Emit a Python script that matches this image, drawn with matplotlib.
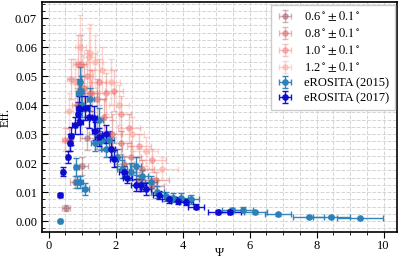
import matplotlib
matplotlib.use("Agg")
import matplotlib.pyplot as plt
from matplotlib.ticker import MultipleLocator
import numpy as np

plt.rcParams['font.family'] = ['Liberation Serif', 'DejaVu Serif']
plt.rcParams['mathtext.fontset'] = 'stix'

# ---- data ----
# 0.6 deg
x06 = [0.51, 0.78, 1.00, 1.15, 1.45, 1.90, 2.25, 2.70, 3.10]
y06 = [0.0045, 0.0135, 0.0190, 0.0285, 0.0300, 0.0250, 0.0195, 0.0140, 0.0120]
xe06 = [0.12, 0.15, 0.18, 0.20, 0.25, 0.30, 0.30, 0.35, 0.35]
ye06 = [0.001, 0.002, 0.003, 0.004, 0.005, 0.004, 0.003, 0.003, 0.003]
# 0.8 deg
x08 = [0.60, 0.85, 1.05, 1.25, 1.45, 1.65, 1.90, 2.15, 2.45, 2.80, 3.20]
y08 = [0.0280, 0.0400, 0.0460, 0.0440, 0.0420, 0.0360, 0.0300, 0.0270, 0.0220, 0.0180, 0.0140]
xe08 = [0.12, 0.15, 0.18, 0.20, 0.22, 0.25, 0.28, 0.30, 0.32, 0.35, 0.40]
ye08 = [0.004, 0.006, 0.008, 0.008, 0.007, 0.006, 0.005, 0.004, 0.004, 0.003, 0.003]
# 1.0 deg
x10 = [0.50, 0.66, 0.88, 0.98, 1.15, 1.30, 1.50, 1.70, 1.95, 2.15, 2.40, 2.70, 3.10]
y10 = [0.0280, 0.0490, 0.0540, 0.0540, 0.0500, 0.0440, 0.0480, 0.0440, 0.0450, 0.0370, 0.0320, 0.0260, 0.0210]
xe10 = [0.10, 0.12, 0.15, 0.15, 0.18, 0.20, 0.22, 0.25, 0.28, 0.30, 0.32, 0.35, 0.40]
ye10 = [0.004, 0.007, 0.010, 0.010, 0.009, 0.008, 0.008, 0.007, 0.007, 0.006, 0.005, 0.004, 0.004]
# 1.2 deg
x12 = [0.60, 0.80, 0.95, 1.20, 1.25, 1.40, 1.60, 1.85, 2.10, 2.50, 2.90, 3.40]
y12 = [0.0380, 0.0480, 0.0600, 0.0565, 0.0580, 0.0550, 0.0520, 0.0480, 0.0400, 0.0300, 0.0240, 0.0180]
xe12 = [0.12, 0.14, 0.16, 0.18, 0.20, 0.22, 0.25, 0.28, 0.30, 0.35, 0.38, 0.45]
ye12 = [0.006, 0.008, 0.011, 0.010, 0.010, 0.009, 0.008, 0.008, 0.007, 0.006, 0.005, 0.004]
# eROSITA 2015
x15 = [0.35, 0.83, 0.85, 0.95, 1.10, 0.91, 0.96, 0.93, 1.00, 1.25, 1.50, 1.40, 1.55,
       1.70, 1.80, 2.05, 2.20, 2.45, 2.60, 2.80, 3.05, 3.25, 3.50, 3.70, 3.95, 4.25,
       5.47, 5.80, 6.17, 6.85, 7.76, 8.44, 9.29]
y15 = [0.0000, 0.0187, 0.0135, 0.0135, 0.0110, 0.0440, 0.0450, 0.0480, 0.0400, 0.0420,
       0.0350, 0.0270, 0.0275, 0.0250, 0.0280, 0.0220, 0.0180, 0.0170, 0.0190, 0.0155,
       0.0135, 0.0100, 0.0085, 0.0080, 0.0080, 0.0075, 0.0038, 0.0039, 0.0030, 0.0024,
       0.0015, 0.0013, 0.0009]
xe15 = [0.05, 0.08, 0.08, 0.08, 0.10, 0.08, 0.08, 0.08, 0.10, 0.10, 0.12, 0.12, 0.12,
        0.14, 0.14, 0.15, 0.15, 0.16, 0.16, 0.18, 0.18, 0.20, 0.20, 0.22, 0.22, 0.25,
        0.30, 0.30, 0.35, 0.40, 0.45, 0.55, 0.68]
ye15 = [0.0003, 0.003, 0.002, 0.002, 0.002, 0.005, 0.005, 0.005, 0.004, 0.004, 0.004,
        0.003, 0.003, 0.003, 0.003, 0.003, 0.003, 0.003, 0.003, 0.002, 0.002, 0.002,
        0.0015, 0.0015, 0.0015, 0.0015, 0.0008, 0.0008, 0.0006, 0.0005, 0.0004, 0.0003, 0.0002]
# eROSITA 2017
x17 = [0.35, 0.42, 0.57, 0.63, 0.68, 0.78, 0.88, 0.90, 0.95, 1.10, 1.20, 1.35, 1.40,
       1.50, 1.70, 1.85, 1.95, 2.25, 2.35, 2.60, 2.75, 2.90, 3.30, 3.60, 3.85, 4.10,
       4.40, 5.07, 5.42]
y17 = [0.0090, 0.0170, 0.0220, 0.0270, 0.0293, 0.0330, 0.0370, 0.0390, 0.0340, 0.0390,
       0.0360, 0.0355, 0.0310, 0.0290, 0.0300, 0.0250, 0.0215, 0.0170, 0.0150, 0.0125,
       0.0125, 0.0110, 0.0090, 0.0075, 0.0070, 0.0065, 0.0050, 0.0032, 0.0032]
xe17 = [0.04, 0.05, 0.05, 0.06, 0.06, 0.07, 0.07, 0.08, 0.08, 0.09, 0.10, 0.10, 0.10,
        0.11, 0.12, 0.12, 0.13, 0.14, 0.14, 0.15, 0.16, 0.17, 0.18, 0.20, 0.20, 0.22,
        0.25, 0.30, 0.32]
ye17 = [0.0008, 0.0015, 0.002, 0.003, 0.003, 0.003, 0.004, 0.004, 0.004, 0.004, 0.004,
        0.004, 0.003, 0.003, 0.003, 0.003, 0.003, 0.002, 0.002, 0.002, 0.002, 0.002,
        0.0015, 0.0012, 0.0012, 0.001, 0.001, 0.0006, 0.0006]

fig = plt.figure(figsize=(3.99, 2.59), dpi=100)
ax = fig.add_axes([0.105, 0.104, 0.89, 0.888])

ax.grid(True, which='both', ls='--', color='#d4d4d4', lw=0.7, zorder=0)
ax.set_axisbelow(True)

kw = dict(fmt='o', ms=3.8, capsize=2, elinewidth=1.0, capthick=1.0)
ax.errorbar(x06, y06, yerr=ye06, xerr=xe06, color='#a05a64', alpha=0.45, label=r'0.6$^\circ\pm0.1^\circ$', **kw)
ax.errorbar(x08, y08, yerr=ye08, xerr=xe08, color='#d9605e', alpha=0.45, label=r'0.8$^\circ\pm0.1^\circ$', **kw)
ax.errorbar(x10, y10, yerr=ye10, xerr=xe10, color='#f07070', alpha=0.4, label=r'1.0$^\circ\pm0.1^\circ$', **kw)
ax.errorbar(x12, y12, yerr=ye12, xerr=xe12, color='#ff9a8a', alpha=0.4, label=r'1.2$^\circ\pm0.1^\circ$', **kw)
ax.errorbar(x15, y15, yerr=ye15, xerr=xe15, color='#2b80b8', alpha=0.95, label='eROSITA (2015)', **kw)
ax.errorbar(x17, y17, yerr=ye17, xerr=xe17, color='#0a0ad0', alpha=0.95, label='eROSITA (2017)', **kw)

ax.set_xlim(-0.2, 10.4)
ax.set_ylim(-0.0038, 0.0755)
ax.xaxis.set_major_locator(MultipleLocator(2))
ax.xaxis.set_minor_locator(MultipleLocator(0.5))
ax.yaxis.set_major_locator(MultipleLocator(0.01))
ax.yaxis.set_minor_locator(MultipleLocator(0.0025))
ax.yaxis.set_major_formatter(matplotlib.ticker.FormatStrFormatter('%.2f'))
ax.tick_params(axis='y', which='both', direction='in', labelsize=9)
ax.tick_params(axis='x', which='both', direction='out', labelsize=9, pad=2)
ax.tick_params(which='major', length=4)
ax.tick_params(which='minor', length=2)
for s in ax.spines.values():
    s.set_linewidth(1.2)

ax.set_xlabel('Ψ', fontsize=9)
ax.xaxis.set_label_coords(0.5, -0.065)
ax.set_ylabel('Eff.', fontsize=9)
ax.yaxis.set_label_coords(-0.085, 0.5)

leg = ax.legend(loc='upper right', fontsize=9, frameon=True, fancybox=False,
                edgecolor='#cccccc', framealpha=1, handlelength=1.5, borderpad=0.4,
                labelspacing=0.25, borderaxespad=0.2)

fig.savefig('out.png', dpi=100)
